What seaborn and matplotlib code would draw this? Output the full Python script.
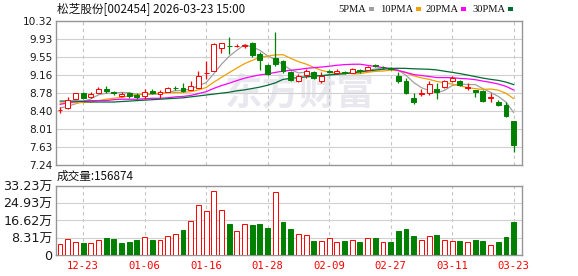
import numpy as np
import pandas as pd
import matplotlib
matplotlib.use("Agg")
import matplotlib.pyplot as plt
from matplotlib.patches import Rectangle
import seaborn as sns

# ---------------- data ----------------
title = "松芝股份[002454] 2026-03-23 15:00"
vol_title = "成交量:156874"
legend_names = ["5PMA", "10PMA", "20PMA", "30PMA"]
date_labels = ["12-23", "01-06", "01-16", "01-28", "02-09", "02-27", "03-11", "03-23"]
date_index = [3, 11, 19, 27, 35, 43, 51, 59]
price_tick_labels = ["10.32", "9.93", "9.55", "9.16", "8.78", "8.40", "8.01", "7.63", "7.24"]
vol_tick_labels = ["0", "8.31万", "16.62万", "24.93万", "33.23万"]
vol_tick_values = [0, 8.31, 16.62, 24.93, 33.23]

opens = [8.41, 8.46, 8.66, 8.79, 8.69, 8.79, 8.87, 8.80, 8.71, 8.78,
         8.74, 8.71, 8.83, 8.76, 8.81, 8.90, 8.90, 8.85, 8.89, 9.21,
         9.26, 9.74, 9.80, 9.79, 9.80, 9.86, 9.62, 9.39, 9.53, 9.46,
         9.24, 9.03, 9.16, 9.24, 9.03, 9.25, 9.22, 9.24, 9.22, 9.27,
         9.28, 9.38, 9.34, 9.31, 9.15, 9.03, 8.67, 8.77, 8.78, 8.87,
         8.91, 9.05, 9.05, 8.90, 8.85, 8.83, 8.68, 8.60, 8.53, 8.19]
highs = [8.48, 8.69, 8.79, 8.80, 8.80, 8.91, 8.94, 8.83, 8.81, 8.80,
         8.78, 8.87, 8.86, 8.85, 8.92, 8.93, 8.99, 9.05, 9.25, 9.46,
         9.85, 9.86, 9.98, 9.83, 9.84, 9.88, 9.67, 9.40, 10.08, 9.50,
         9.26, 9.20, 9.30, 9.26, 9.24, 9.28, 9.30, 9.26, 9.32, 9.30,
         9.37, 9.41, 9.36, 9.33, 9.24, 9.10, 8.78, 8.87, 9.03, 8.99,
         9.06, 9.14, 9.06, 8.99, 8.85, 8.85, 8.78, 8.64, 8.58, 8.19]
lows = [8.35, 8.45, 8.65, 8.66, 8.68, 8.78, 8.78, 8.74, 8.70, 8.67,
        8.65, 8.66, 8.77, 8.68, 8.80, 8.85, 8.80, 8.84, 8.88, 9.08,
        9.25, 9.64, 9.62, 9.76, 9.75, 9.55, 9.28, 9.17, 9.36, 9.22,
        9.05, 9.02, 9.10, 9.09, 8.99, 9.21, 9.20, 9.19, 9.21, 9.22,
        9.27, 9.33, 9.29, 9.27, 8.99, 8.76, 8.55, 8.71, 8.75, 8.65,
        8.90, 9.02, 8.93, 8.84, 8.69, 8.60, 8.58, 8.51, 8.27, 7.51]
closes = [8.42, 8.64, 8.78, 8.68, 8.76, 8.86, 8.82, 8.78, 8.76, 8.72,
          8.69, 8.81, 8.79, 8.80, 8.88, 8.89, 8.83, 8.94, 9.15, 9.22,
          9.84, 9.85, 9.79, 9.80, 9.81, 9.60, 9.49, 9.19, 9.41, 9.26,
          9.06, 9.15, 9.26, 9.10, 9.15, 9.23, 9.25, 9.22, 9.30, 9.25,
          9.35, 9.36, 9.33, 9.30, 9.03, 8.79, 8.59, 8.78, 8.98, 8.80,
          9.05, 9.10, 8.96, 8.91, 8.80, 8.62, 8.69, 8.53, 8.30, 7.67]
# volume in 万 shares
volumes = [5.3, 7.6, 6.1, 5.8, 5.6, 7.1, 8.2, 7.7, 5.8, 6.4,
           7.2, 8.5, 7.2, 7.2, 9.2, 10.0, 12.0, 16.4, 24.1, 21.2,
           30.8, 21.7, 14.9, 11.6, 14.9, 14.4, 14.9, 13.2, 30.3, 15.9,
           12.4, 10.0, 9.5, 6.7, 6.7, 8.0, 6.3, 6.7, 7.1, 6.3,
           8.0, 8.2, 6.3, 6.3, 11.6, 12.5, 9.2, 7.2, 9.0, 9.5,
           7.2, 6.7, 6.7, 6.1, 7.2, 6.7, 4.7, 6.3, 8.7, 15.69]
# volume bar colour: 1 = up (red hollow), 0 = down (green)
vol_up = [1, 1, 1, 0, 1, 1, 0, 0, 0, 0,
          0, 1, 0, 1, 1, 1, 0, 1, 1, 1,
          1, 1, 0, 1, 1, 0, 0, 0, 1, 0,
          0, 1, 1, 0, 1, 1, 1, 0, 1, 0,
          1, 0, 1, 0, 0, 0, 0, 1, 1, 0,
          1, 1, 0, 1, 0, 0, 1, 0, 0, 0]
# moving-average values before enough history is visible
ma5_head = [8.46, 8.50, 8.55, 8.60]
ma10_head = [8.57, 8.57, 8.58, 8.58, 8.59, 8.62, 8.65, 8.67, 8.69]
ma20_head = [8.54, 8.57, 8.60, 8.61, 8.62, 8.62, 8.62, 8.64, 8.65, 8.65,
             8.65, 8.66, 8.67, 8.67, 8.68, 8.70, 8.71, 8.73, 8.77]
ma30_head = [8.61, 8.61, 8.61, 8.60, 8.59, 8.59, 8.59, 8.59, 8.60, 8.61,
             8.62, 8.63, 8.64, 8.65, 8.66, 8.67, 8.68, 8.70, 8.72, 8.74,
             8.76, 8.78, 8.80, 8.83, 8.85, 8.88, 8.91, 8.95, 9.00]

# ---------------- styling ----------------
RED = "#ff0000"
GREEN = "#008000"
MA_COLORS = ["#a0a0a0", "#f0a000", "#ff00ff", "#006b33"]
GRID = "#d0d0d0"
SPINE = "#969696"

sns.set_theme(style="white")
plt.rcParams["font.family"] = ["DejaVu Sans", "Noto Sans CJK SC"]

W, H = 578, 276
fig = plt.figure(figsize=(W / 100, H / 100), dpi=100)
fig.patch.set_facecolor("white")


def fx(px):
    return px / W


def fy(py):
    return 1 - py / H


ax = fig.add_axes([fx(56), fy(165), (522 - 56) / W, (165 - 21.3) / H])
axv = fig.add_axes([fx(56), fy(255), (522 - 56) / W, (255 - 186) / H])

n = len(closes)
x = np.arange(n)
o = np.array(opens)
c = np.array(closes)
h = np.array(highs)
lo = np.array(lows)

# moving averages
cs = pd.Series(c)


def ma(head, k):
    return np.concatenate([np.array(head), cs.rolling(k).mean().values[k - 1:]])


mas = [ma(ma5_head, 5), ma(ma10_head, 10), ma(ma20_head, 20), ma(ma30_head, 30)]

XL = (-0.52, 60.08)
price_vals = [float(t) for t in price_tick_labels]

# watermark
ax.text((300 - 56) / 466, (165 - 94) / 143.7, "东方财富", transform=ax.transAxes,
        ha="center", va="center", fontsize=27, fontweight="bold",
        color="#e8e8ee", family=["Noto Sans CJK SC"], zorder=0)

# moving average lines
for m, col in zip(mas, MA_COLORS):
    sns.lineplot(x=x, y=m, ax=ax, color=col, linewidth=0.9, legend=False, zorder=2)

# candles
bw = 0.64
for i in range(n):
    up = c[i] >= o[i]
    col = RED if up else GREEN
    ax.vlines(x[i], lo[i], h[i], color=col, linewidth=0.9, zorder=3)
    bot = min(o[i], c[i])
    ht = max(abs(c[i] - o[i]), 0.004)
    ax.bar(x[i], ht, bottom=bot, width=bw, facecolor="white" if up else col,
           edgecolor=col, linewidth=0.7, zorder=4)

ax.set_xlim(*XL)
ax.set_ylim(7.24, 10.32)
ax.set_yticks(price_vals)
ax.set_yticklabels(price_tick_labels)
ax.set_xticks(date_index)
ax.set_xticklabels([])
ax.tick_params(axis="both", length=0, pad=2.5, labelsize=7.6, colors="#1a1a1a")
ax.yaxis.grid(True, color=GRID, linewidth=0.8)
ax.xaxis.grid(True, color="#c4c4c4", linewidth=0.8, linestyle=(0, (3, 3)))
ax.set_axisbelow(True)
for s in ax.spines.values():
    s.set_color(SPINE)
    s.set_linewidth(1.0)
    s.set_visible(True)

# volume
vcol = [RED if u else GREEN for u in vol_up]
vface = ["white" if u else GREEN for u in vol_up]
for xi, v, fc, ec in zip(x, volumes, vface, vcol):
    axv.bar(xi, v, width=bw, facecolor=fc, edgecolor=ec, linewidth=0.7, zorder=3)
axv.set_xlim(*XL)
axv.set_ylim(0, 33.23)
axv.set_yticks(vol_tick_values)
axv.set_yticklabels(vol_tick_labels)
axv.set_xticks(date_index)
axv.set_xticklabels(date_labels, family=["DejaVu Sans Mono"], color=RED, fontsize=7.6)
axv.tick_params(axis="y", length=0, pad=2.5, labelsize=9.2, colors="#1a1a1a")
axv.tick_params(axis="x", length=0, pad=4)
axv.yaxis.grid(True, color=GRID, linewidth=0.8)
axv.xaxis.grid(True, color="#c4c4c4", linewidth=0.8, linestyle=(0, (3, 3)))
axv.set_axisbelow(True)
for s in axv.spines.values():
    s.set_color(SPINE)
    s.set_linewidth(1.0)
    s.set_visible(True)

# titles
fig.text(fx(57), fy(9), title, ha="left", va="center", fontsize=8.4,
         family=["Noto Sans CJK SC", "DejaVu Sans"], color="#111111")
fig.text(fx(57), fy(176), vol_title, ha="left", va="center", fontsize=8.4,
         family=["Noto Sans CJK SC", "DejaVu Sans"], color="#111111")

# legend (text + small coloured blocks placed right after each label)
fig.canvas.draw()
renderer = fig.canvas.get_renderer()
leg_x = [338, 380, 425, 472]
for name, lx, col in zip(legend_names, leg_x, MA_COLORS):
    t = fig.text(fx(lx), fy(9), name, ha="left", va="center", fontsize=7.6,
                 family=["Liberation Serif"], color="#111111")
    bb = t.get_window_extent(renderer=renderer)
    bx = bb.x1 + 3
    fig.add_artist(Rectangle((bx / W, fy(11)), 5 / W, 4 / H, transform=fig.transFigure,
                             facecolor=col, edgecolor="none"))

fig.savefig("out.png", dpi=100)
